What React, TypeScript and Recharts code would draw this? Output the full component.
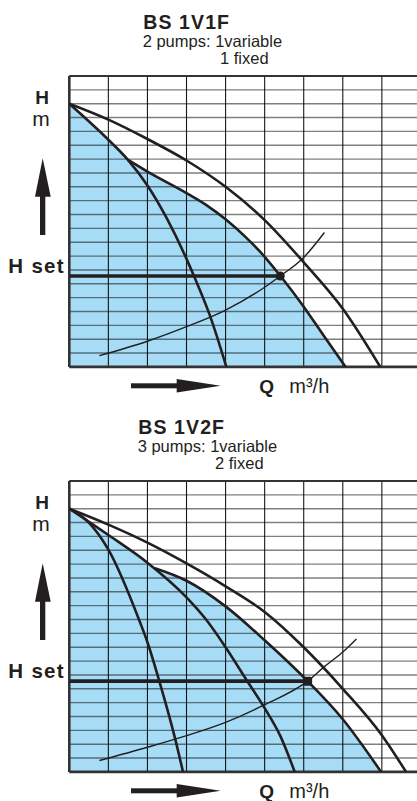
import React from "react";
import { ComposedChart, Area, Line, Scatter, XAxis, YAxis, ReferenceLine } from "recharts";

// grid steps (the sheet has no numbers, only a 1 x 1 grid)
const qTicks = [0, 1, 2, 3, 4, 5, 6, 7, 8];
const hTicks = [0, 1, 2, 3, 4, 5, 6, 7, 8, 9, 10, 11, 12, 13, 14, 15, 16, 17, 18, 19, 20, 21];

// BS 1V1F
const v1f_onePump = [
    { q: 0, h: 19 }, { q: 1, h: 16.4 }, { q: 1.5, h: 14.95 }, { q: 2, h: 13.1 }, { q: 2.5, h: 10.7 },
    { q: 3, h: 7.8 }, { q: 3.2, h: 6.5 }, { q: 3.6, h: 3.7 }, { q: 4.02, h: 0 },
];
const v1f_twoPumps = [
    { q: 0, h: 19 }, { q: 1, h: 17.85 }, { q: 2, h: 16.45 }, { q: 3, h: 14.9 }, { q: 4, h: 13 },
    { q: 5, h: 10.6 }, { q: 6, h: 7.55 }, { q: 7, h: 4.2 }, { q: 7.96, h: 0 },
];
const v1f_variable = [
    { q: 1.5, h: 14.95 }, { q: 2, h: 14.1 }, { q: 3, h: 12.55 }, { q: 3.5, h: 11.7 }, { q: 4, h: 10.65 },
    { q: 4.5, h: 9.4 }, { q: 5, h: 7.95 }, { q: 5.4, h: 6.58 }, { q: 6, h: 4.35 }, { q: 6.5, h: 2.3 },
    { q: 7.07, h: 0 },
];
const v1f_system = [
    { q: 0.77, h: 0.81 }, { q: 2, h: 1.85 }, { q: 3, h: 2.9 }, { q: 4, h: 4.1 }, { q: 5, h: 5.75 },
    { q: 5.4, h: 6.56 }, { q: 6, h: 7.9 }, { q: 6.53, h: 9.7 },
];
const v1f_setPoint = { q: 5.4, h: 6.56 };

// BS 1V2F
const v2f_onePump = [
    { q: 0, h: 19 }, { q: 0.5, h: 18 }, { q: 1, h: 16.05 }, { q: 1.81, h: 10.8 }, { q: 2, h: 9.36 },
    { q: 2.3, h: 6.59 }, { q: 2.71, h: 2.38 }, { q: 2.91, h: 0 },
];
const v2f_twoPumps = [
    { q: 0, h: 19 }, { q: 1, h: 17.1 }, { q: 2, h: 15.1 }, { q: 3, h: 12.6 }, { q: 3.5, h: 11 },
    { q: 4, h: 9 }, { q: 4.5, h: 6.8 }, { q: 5, h: 4.6 }, { q: 5.4, h: 2.6 }, { q: 5.77, h: 0 },
];
const v2f_threePumps = [
    { q: 0, h: 19 }, { q: 1, h: 17.85 }, { q: 2, h: 16.55 }, { q: 3, h: 15.05 }, { q: 4, h: 13.4 },
    { q: 5, h: 11.55 }, { q: 6, h: 9 }, { q: 7, h: 6 }, { q: 8, h: 2.65 }, { q: 8.62, h: 0 },
];
const v2f_variable = [
    { q: 2.19, h: 14.7 }, { q: 3, h: 13.8 }, { q: 4, h: 11.95 }, { q: 5, h: 9.5 }, { q: 6.1, h: 6.55 },
    { q: 7, h: 3.8 }, { q: 7.98, h: 0 },
];
const v2f_system = [
    { q: 0.77, h: 0.82 }, { q: 2, h: 1.78 }, { q: 3, h: 2.62 }, { q: 4, h: 3.58 }, { q: 5, h: 4.85 },
    { q: 6.1, h: 6.55 }, { q: 6.53, h: 7.6 }, { q: 7, h: 8.65 }, { q: 7.35, h: 9.6 },
];
const v2f_setPoint = { q: 6.1, h: 6.55 };

const W = 417;
const PLOT_LEFT = 69.3;
const Q_UNIT = 39.07;
const PLOT_H = 290.9;
const INK = "#231f20";
const BLUE = "#a7dcf6";
const FONT = "'Liberation Sans', Arial, Helvetica, sans-serif";

type Pt = { q: number; h: number };

// shaded area = steep curve up to where the variable curve branches off, then the variable curve
const envelope = (steep: Pt[], variable: Pt[]) =>
    steep.filter((p) => p.q < variable[0].q).concat(variable);

type ChartProps = {
    top: number;
    textX: number;
    title: string;
    line1: string;
    line2: string;
    curves: Pt[][];
    steep: Pt[];
    variable: Pt[];
    system: Pt[];
    setPoint: Pt;
    square?: boolean;
};

const PumpChart = ({ top, textX, title, line1, line2, curves, steep, variable, system, setPoint, square }: ChartProps) => {
    const plotTop = top + 75.6;
    const fill = envelope(steep, variable);
    return (
        <>
            <div style={{ position: "absolute", left: 0, top: plotTop - 10 }}>
                <ComposedChart width={W} height={PLOT_H + 20} margin={{ top: 10, right: 0, bottom: 10, left: PLOT_LEFT }}>
                    <XAxis type="number" dataKey="q" domain={[0, (W - PLOT_LEFT) / Q_UNIT]} ticks={qTicks} hide allowDataOverflow />
                    <YAxis type="number" domain={[0, 21]} ticks={hTicks} hide allowDataOverflow />
                    <Area data={fill} dataKey="h" type="monotone" fill={BLUE} fillOpacity={1} stroke="none" isAnimationActive={false} />
                    {/* printed grid: semi-transparent so it darkens over the blue like ink */}
                    {hTicks.map((h) => (
                        <ReferenceLine key={"h" + h} y={h} stroke="#000" strokeOpacity={0.5} strokeWidth={1.4} />
                    ))}
                    {qTicks.map((q) => (
                        <ReferenceLine key={"q" + q} x={q} stroke="#000" strokeOpacity={0.9} strokeWidth={1.1} />
                    ))}
                    <ReferenceLine x={0} stroke="#333" strokeWidth={2.6} />
                    <ReferenceLine y={21} stroke="#333" strokeWidth={2} />
                    <ReferenceLine y={0} stroke="#333" strokeWidth={2.6} />
                    <Line data={system} dataKey="h" type="monotone" stroke={INK} strokeWidth={1.4} dot={false} isAnimationActive={false} />
                    {curves.map((c, i) => (
                        <Line key={i} data={c} dataKey="h" type="monotone" stroke={INK} strokeWidth={2.6} dot={false} isAnimationActive={false} />
                    ))}
                    <Line data={variable} dataKey="h" type="monotone" stroke={INK} strokeWidth={2.6} dot={false} isAnimationActive={false} />
                    <Line data={[{ q: 0, h: setPoint.h }, setPoint]} dataKey="h" stroke={INK} strokeWidth={3.6} dot={false} isAnimationActive={false} />
                    <Scatter
                        data={[setPoint]}
                        dataKey="h"
                        isAnimationActive={false}
                        shape={(p: any) =>
                            square ? (
                                <rect x={p.cx - 4.5} y={p.cy - 4.5} width={9} height={9} rx={1.5} fill={INK} />
                            ) : (
                                <circle cx={p.cx} cy={p.cy} r={4.5} fill={INK} />
                            )
                        }
                    />
                </ComposedChart>
            </div>
            <svg width={W} height={420} style={{ position: "absolute", left: 0, top, overflow: "visible", pointerEvents: "none" }}>
                <g fontFamily={FONT} fill={INK}>
                    <text x={textX} y={29.3} fontSize={19.5} fontWeight="bold" letterSpacing={1.1}>{title}</text>
                    <text x={textX - 0.6} y={46.5} fontSize={16.5}>{line1}</text>
                    <text x={textX + 76.7} y={64} fontSize={16.5}>{line2}</text>
                    <text x={42} y={104} fontSize={19} fontWeight="bold" textAnchor="middle">H</text>
                    <text x={41} y={126} fontSize={21} textAnchor="middle">m</text>
                    <text x={8.3} y={272.7} fontSize={20.5} fontWeight="bold" letterSpacing={1.3}>H set</text>
                    <text x={259.3} y={393} fontSize={19} fontWeight="bold">Q</text>
                    <text x={289.3} y={393} fontSize={20}>m³/h</text>
                </g>
                <polygon points="42.7,158.3 35,196.7 50.7,196.7" fill={INK} />
                <rect x={40} y={196} width={5.3} height={39} fill={INK} />
                <rect x={131} y={383.3} width={46} height={5} fill={INK} />
                <polygon points="176.7,379 176.7,392.6 220.7,385.8" fill={INK} />
            </svg>
        </>
    );
};

const App = () => {
    return (
        <div style={{ position: "absolute", left: 0, top: 0, width: W, height: 801, overflow: "hidden", background: "#fff" }}>
            <PumpChart
                top={0}
                textX={143.3}
                title="BS 1V1F"
                line1="2 pumps: 1variable"
                line2="1 fixed"
                curves={[v1f_onePump, v1f_twoPumps]}
                steep={v1f_onePump}
                variable={v1f_variable}
                system={v1f_system}
                setPoint={v1f_setPoint}
            />
            <PumpChart
                top={405}
                textX={138.3}
                title="BS 1V2F"
                line1="3 pumps: 1variable"
                line2="2 fixed"
                curves={[v2f_onePump, v2f_twoPumps, v2f_threePumps]}
                steep={v2f_twoPumps}
                variable={v2f_variable}
                system={v2f_system}
                setPoint={v2f_setPoint}
                square
            />
        </div>
    );
};

export default App;
